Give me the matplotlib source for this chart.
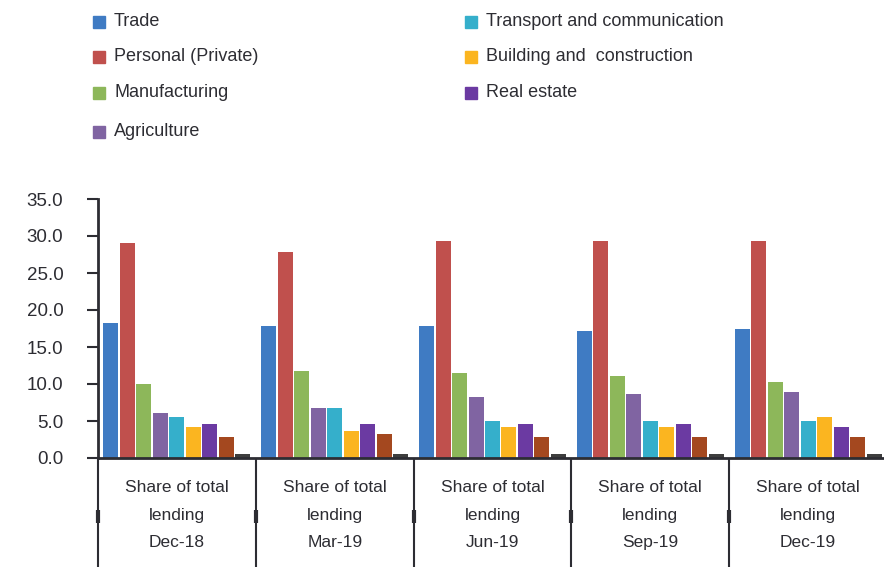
import matplotlib
matplotlib.use("Agg")
import matplotlib.pyplot as plt
import matplotlib.transforms as mtransforms
from matplotlib.patches import Rectangle
import numpy as np

plt.rcParams["font.family"] = ["Liberation Sans", "DejaVu Sans"]

periods = ["Dec-18", "Mar-19", "Jun-19", "Sep-19", "Dec-19"]
category_labels = ["Share of total\nlending\n" + p for p in periods]

# share of total lending (%) per sector
trade = [18.2, 17.9, 17.9, 17.1, 17.5]
personal = [29.0, 27.9, 29.3, 29.3, 29.3]
manufacturing = [10.0, 11.7, 11.5, 11.1, 10.3]
agriculture = [6.1, 6.7, 8.2, 8.6, 8.9]
transport = [5.6, 6.7, 5.0, 5.0, 5.0]
building = [4.2, 3.6, 4.2, 4.2, 5.6]
real_estate = [4.6, 4.6, 4.6, 4.6, 4.2]
other_a = [2.8, 3.2, 2.8, 2.8, 2.8]
other_b = [0.6, 0.6, 0.6, 0.6, 0.6]

series = [trade, personal, manufacturing, agriculture, transport,
          building, real_estate, other_a, other_b]
legend_names = ["Trade", "Personal (Private)", "Manufacturing", "Agriculture",
                "Transport and communication", "Building and  construction",
                "Real estate"]
colors = ["#3f7bc3", "#c0504d", "#8db75a", "#8064a2", "#35afcb",
          "#fbb520", "#6b3aa2", "#a4481f", "#3e3e3e"]

W, H = 884, 567
fig = plt.figure(figsize=(W / 100, H / 100), dpi=100)
ax = fig.add_axes([98 / W, 109 / H, 789 / W, 259 / H])

text_col = "#2d2d33"
n = len(series)
step = 0.94 / n
x = np.arange(len(periods))
for k, vals in enumerate(series):
    offs = -0.47 + (k + 0.5) * step
    ax.bar(x + offs, vals, width=step * 0.91, color=colors[k], zorder=2)

ax.set_xlim(-0.5, len(periods) - 0.5)
ax.set_ylim(0, 35)
ax.set_yticks(np.arange(0, 36, 5))
ax.set_yticklabels(["%.1f" % v for v in np.arange(0, 36, 5)])
ax.tick_params(axis="y", direction="out", length=8, width=1.5, pad=17,
               labelsize=13.5, labelcolor=text_col, color=text_col)
ax.set_xticks([])
for s in ["top", "right"]:
    ax.spines[s].set_visible(False)
for s in ["left", "bottom"]:
    ax.spines[s].set_linewidth(2)
    ax.spines[s].set_color(text_col)
    ax.spines[s].set_zorder(5)

# category boxes under the axis
trans = mtransforms.blended_transform_factory(ax.transData, ax.transAxes)
for b in np.arange(-0.5, len(periods) - 0.5, 1.0):
    ax.plot([b, b], [0, -0.45], transform=trans, color=text_col, lw=1.5,
            clip_on=False, solid_capstyle="butt")
    ax.plot([b, b], [-0.2, -0.25], transform=trans, color=text_col, lw=3,
            clip_on=False, solid_capstyle="butt")
for i, lab in enumerate(category_labels):
    ax.text(i, -0.085, lab, transform=trans, ha="center", va="top",
            fontsize=12.5, color=text_col, linespacing=2.05)

# legend laid out in two columns
rows_y = [22, 57, 93, 132]
col_x = [93, 465]
for j, name in enumerate(legend_names):
    col = 0 if j < 4 else 1
    row = j if j < 4 else j - 4
    cx, cy = col_x[col], rows_y[row]
    fig.patches.append(Rectangle((cx / W, 1 - (cy + 6) / H), 12 / W, 12 / H,
                                 transform=fig.transFigure, color=colors[j]))
    fig.text((cx + 21) / W, 1 - cy / H, name, ha="left", va="center",
             fontsize=13, color=text_col)

fig.savefig("out.png", dpi=100)
